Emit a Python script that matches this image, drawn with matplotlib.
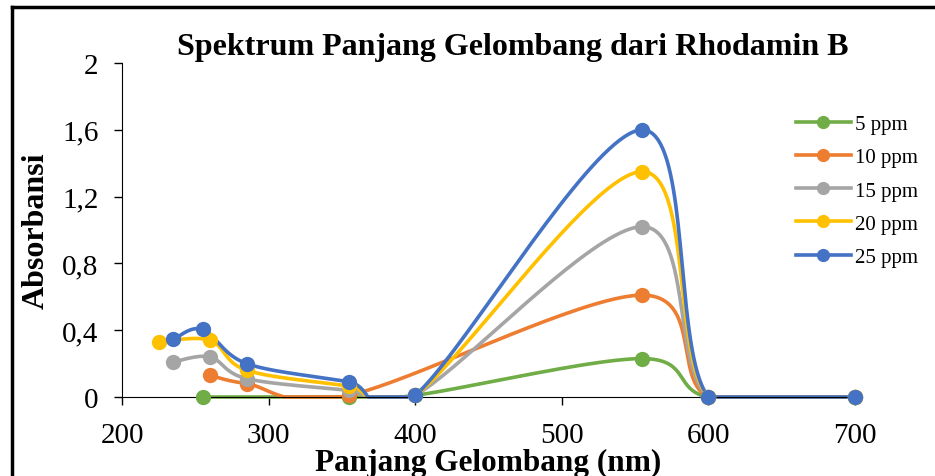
import numpy as np
import matplotlib
matplotlib.use("Agg")
import matplotlib.pyplot as plt
from matplotlib.lines import Line2D

plt.rcParams['font.family'] = ['Liberation Serif', 'DejaVu Serif']

# data
series_names = ['5 ppm', '10 ppm', '15 ppm', '20 ppm', '25 ppm']
colors = ['#70AD47', '#ED7D31', '#A5A5A5', '#FFC000', '#4472C4']

x_5 = [255, 355, 400, 555, 600, 700]
y_5 = [0.0, 0.0, 0.01, 0.23, 0.0, 0.0]

x_10 = [260, 285, 355, 555, 600, 700]
y_10 = [0.13, 0.08, 0.01, 0.61, 0.0, 0.0]

x_15 = [235, 260, 285, 355, 400, 555, 600, 700]
y_15 = [0.21, 0.24, 0.11, 0.04, 0.01, 1.02, 0.0, 0.0]

x_20 = [225, 260, 285, 355, 400, 555, 600, 700]
y_20 = [0.33, 0.34, 0.16, 0.065, 0.01, 1.35, 0.0, 0.0]

x_25 = [235, 255, 285, 355, 400, 555, 600, 700]
y_25 = [0.345, 0.405, 0.20, 0.09, 0.01, 1.60, 0.0, 0.0]

xs = [x_5, x_10, x_15, x_20, x_25]
ys = [y_5, y_10, y_15, y_20, y_25]

yticks = [0, 0.4, 0.8, 1.2, 1.6, 2]
ytick_labels = ['0', '0,4', '0,8', '1,2', '1,6', '2']
xticks = [200, 300, 400, 500, 600, 700]


def smooth(x, y, n=40):
    # excel-like smoothed line: bezier segments with catmull-rom handles
    p = np.column_stack([x, y]).astype(float)
    p = np.vstack([p[0], p, p[-1]])
    out = []
    t = np.linspace(0, 1, n)[:, None]
    for i in range(1, len(p) - 2):
        p0, p3 = p[i], p[i + 1]
        c1 = p0 + (p[i + 1] - p[i - 1]) / 6
        c2 = p3 - (p[i + 2] - p[i]) / 6
        seg = ((1 - t) ** 3) * p0 + 3 * ((1 - t) ** 2) * t * c1 \
            + 3 * (1 - t) * t ** 2 * c2 + t ** 3 * p3
        out.append(seg)
    out = np.vstack(out)
    return out[:, 0], out[:, 1]


W, H = 935, 477
fig = plt.figure(figsize=(W / 100, H / 100), dpi=100)
ax = fig.add_axes([122 / W, 1 - 398 / H, (855 - 122) / W, (398 - 64) / H])

for x, y, c, name in zip(xs, ys, colors, series_names):
    sx, sy = smooth(x, y)
    sy = np.maximum(sy, 0)  # curve rests on the axis instead of dipping below
    ax.plot(sx, sy, color=c, lw=2.6, solid_capstyle='round', clip_on=False, zorder=2)
    ax.plot(x, y, 'o', color=c, ms=10, clip_on=False, zorder=3)

ax.set_xlim(200, 700)
ax.set_ylim(0, 2)
ax.set_xticks(xticks)
ax.set_yticks(yticks)
ax.set_yticklabels(ytick_labels)
ax.tick_params(axis='both', labelsize=21, direction='out', length=6, width=1)
ax.tick_params(axis='x', pad=12)
ax.tick_params(axis='y', pad=11)
ax.spines['top'].set_visible(False)
ax.spines['right'].set_visible(False)

ax.set_xlabel('Panjang Gelombang (nm)', fontsize=22.5, fontweight='bold', labelpad=0)
ax.set_ylabel('Absorbansi', fontsize=23, fontweight='bold', labelpad=8)
fig.text(513 / W, 1 - 47 / H, 'Spektrum Panjang Gelombang dari Rhodamin B',
         ha='center', va='center', fontsize=23, fontweight='bold')

handles = [Line2D([], [], color=c, lw=2.6, marker='o', ms=8.5) for c in colors]
fig.legend(handles, series_names, loc='upper left',
           bbox_to_anchor=(777 / W, 1 - 97 / H), frameon=False,
           fontsize=15, handlelength=2.65, labelspacing=0.65, handletextpad=0.2)

# outer frame lines
fig.add_artist(Line2D([12 / W, 12 / W], [0, 1 - 8 / H], color='black', lw=2.5))
fig.add_artist(Line2D([12 / W, 1], [1 - 8 / H, 1 - 8 / H], color='black', lw=2.5))

fig.savefig('out.png', dpi=100)
